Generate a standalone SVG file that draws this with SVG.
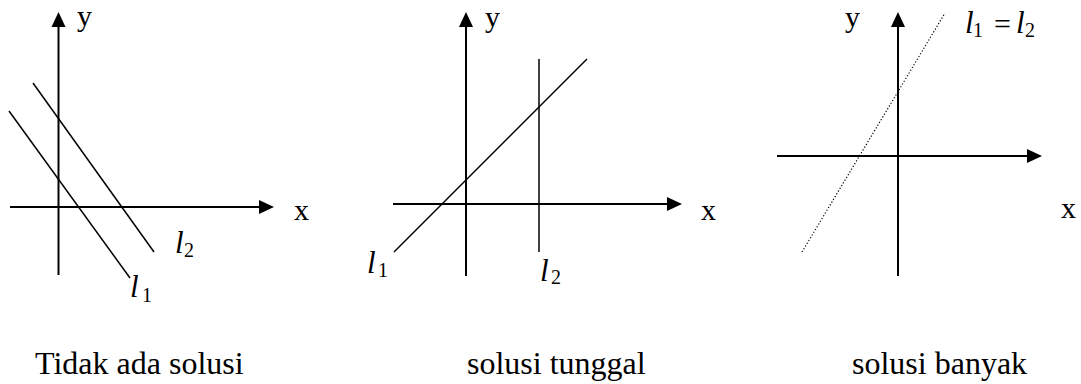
<svg xmlns="http://www.w3.org/2000/svg" width="1081" height="384" viewBox="0 0 1081 384">
<style>
.axis{stroke:#000;stroke-width:2;fill:none}
.ln{stroke:#000;stroke-width:1.5;fill:none}
.dot{stroke:#000;stroke-width:1.2;fill:none;stroke-dasharray:1.2 2}
.head{fill:#000}
.t{font-family:"Liberation Serif","Times New Roman",serif;fill:#000}
.lbl{font-size:30px}
.cap{font-size:32px}
.it{font-style:italic;font-size:31px}
.sub{font-size:20px;font-style:normal}
</style>
<rect width="1081" height="384" fill="#fff"/>
<g id="panel1">
  <line class="axis" x1="58.5" y1="275" x2="58.5" y2="26"/>
  <polygon class="head" points="58.5,12 51.5,27 65.5,27"/>
  <line class="axis" x1="10" y1="207" x2="260" y2="207"/>
  <polygon class="head" points="274,207 259,200 259,214"/>
  <line class="ln" x1="33" y1="83" x2="154" y2="252"/>
  <line class="ln" x1="9" y1="111" x2="130" y2="278"/>
  <text class="t lbl" x="77" y="26">y</text>
  <text class="t lbl" x="294" y="220">x</text>
  <text class="t"><tspan class="it" x="175" y="253">l</tspan><tspan class="sub" x="184" y="257">2</tspan></text>
  <text class="t"><tspan class="it" x="130" y="297">l</tspan><tspan class="sub" x="142" y="302">1</tspan></text>
  <text class="t cap" x="35" y="374">Tidak ada solusi</text>
</g>
<g id="panel2">
  <line class="axis" x1="466" y1="276" x2="466" y2="26"/>
  <polygon class="head" points="466,12 459,27 473,27"/>
  <line class="axis" x1="393" y1="204" x2="668" y2="204"/>
  <polygon class="head" points="682,204 667,197 667,211"/>
  <line class="ln" x1="539" y1="59" x2="539" y2="252"/>
  <line class="ln" x1="394" y1="252" x2="587" y2="59"/>
  <text class="t lbl" x="485" y="27">y</text>
  <text class="t lbl" x="701" y="220">x</text>
  <text class="t"><tspan class="it" x="367" y="273">l</tspan><tspan class="sub" x="378" y="277">1</tspan></text>
  <text class="t"><tspan class="it" x="540" y="281">l</tspan><tspan class="sub" x="551" y="284">2</tspan></text>
  <text class="t cap" x="467" y="374">solusi tunggal</text>
</g>
<g id="panel3">
  <line class="axis" x1="898" y1="276" x2="898" y2="26"/>
  <polygon class="head" points="898,12 891,27 905,27"/>
  <line class="axis" x1="777" y1="156" x2="1028" y2="156"/>
  <polygon class="head" points="1042,156 1027,149 1027,163"/>
  <line class="dot" x1="802" y1="252" x2="945" y2="13"/>
  <text class="t lbl" x="845" y="27">y</text>
  <text class="t lbl" x="1061" y="218">x</text>
  <text class="t"><tspan class="it" x="965" y="33">l</tspan><tspan class="sub" x="973" y="37">1</tspan><tspan class="lbl" x="994" y="34">=</tspan><tspan class="it" x="1016" y="33">l</tspan><tspan class="sub" x="1025" y="37">2</tspan></text>
  <text class="t cap" x="852" y="374">solusi banyak</text>
</g>
</svg>
